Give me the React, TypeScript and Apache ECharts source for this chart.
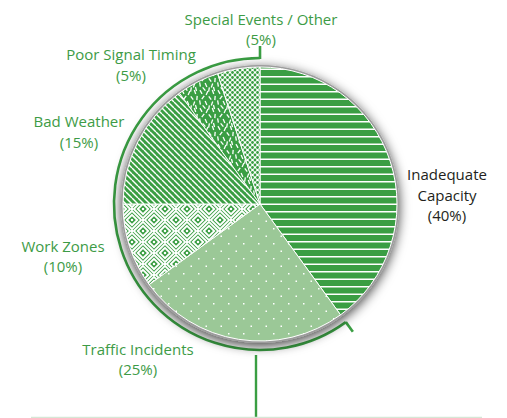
import React, { useEffect, useRef } from 'react';
import * as echarts from 'echarts';

const categories = [
  'Inadequate Capacity',
  'Traffic Incidents',
  'Work Zones',
  'Bad Weather',
  'Poor Signal Timing',
  'Special Events / Other',
];
const shares = [40, 25, 10, 15, 5, 5];

// label block centres (layout only)
const labelCenters = [
  [447, 194.5],
  [138, 359],
  [63, 256],
  [79, 131.5],
  [131, 64.5],
  [261, 29],
];

const GREEN = '#3a9e43';
const LIGHT = '#9bc897';
const TEXT_GREEN = '#3d9b46';
const CX = 260;
const CY = 204;
const R = 137;
const ARC_R = 146;

type Draw = (ctx: CanvasRenderingContext2D, w: number, h: number) => void;

function tile(w: number, h: number, draw: Draw) {
  const c = document.createElement('canvas');
  c.width = w;
  c.height = h;
  const ctx = c.getContext('2d') as CanvasRenderingContext2D;
  draw(ctx, w, h);
  return { image: c.toDataURL(), repeat: 'repeat', imageWidth: w, imageHeight: h };
}

function makePatterns() {
  const stripes = tile(4, 15, (ctx, w, h) => {
    ctx.fillStyle = GREEN;
    ctx.fillRect(0, 0, w, h);
    ctx.fillStyle = '#ffffff';
    ctx.fillRect(0, 1, w, 1.5);
    ctx.fillRect(0, 8.5, w, 1.5);
  });
  const dots = tile(15, 15, (ctx, w, h) => {
    ctx.fillStyle = LIGHT;
    ctx.fillRect(0, 0, w, h);
    ctx.fillStyle = '#ffffff';
    ctx.fillRect(3, 3, 1.5, 1.5);
    ctx.fillRect(10.5, 10.5, 1.5, 1.5);
  });
  const maze = tile(22, 22, (ctx, w, h) => {
    ctx.fillStyle = GREEN;
    ctx.fillRect(0, 0, w, h);
    ctx.strokeStyle = '#ffffff';
    ctx.fillStyle = '#ffffff';
    ctx.lineWidth = 1.9;
    const diamond = (cx: number, cy: number, r: number) => {
      ctx.beginPath();
      ctx.moveTo(cx, cy - r);
      ctx.lineTo(cx + r, cy);
      ctx.lineTo(cx, cy + r);
      ctx.lineTo(cx - r, cy);
      ctx.closePath();
      ctx.stroke();
    };
    const centres = [
      [11, 11],
      [0, 0],
      [22, 0],
      [0, 22],
      [22, 22],
    ];
    centres.forEach(([x, y]) => {
      diamond(x, y, 9.2);
      diamond(x, y, 5.2);
      ctx.fillRect(x - 1.1, y - 1.1, 2.2, 2.2);
    });
    [
      [11, 0],
      [0, 11],
      [22, 11],
      [11, 22],
    ].forEach(([x, y]) => ctx.fillRect(x - 1, y - 1, 2, 2));
  });
  const diag = tile(6, 6, (ctx, w, h) => {
    ctx.fillStyle = GREEN;
    ctx.fillRect(0, 0, w, h);
    ctx.strokeStyle = '#ffffff';
    ctx.lineWidth = 1.4;
    [-6, 0, 6].forEach((o) => {
      ctx.beginPath();
      ctx.moveTo(o, 0);
      ctx.lineTo(o + 6, 6);
      ctx.stroke();
    });
  });
  const sticks = tile(18, 18, (ctx, w, h) => {
    ctx.fillStyle = GREEN;
    ctx.fillRect(0, 0, w, h);
    ctx.strokeStyle = '#ffffff';
    ctx.lineWidth = 1.3;
    const list = [
      [3, 2, 60], [9, 3, 115], [15, 2, 70], [5, 7.5, 125], [12, 8, 55],
      [2, 12.5, 80], [8, 13, 65], [14, 13.5, 110], [17, 8, 95], [6, 17, 50],
      [11, 17.5, 100], [16, 17, 75],
    ];
    list.forEach(([x, y, a]) => {
      const rad = (a * Math.PI) / 180;
      const dx = Math.cos(rad) * 2.1;
      const dy = Math.sin(rad) * 2.1;
      for (const ox of [-18, 0, 18]) {
        for (const oy of [-18, 0, 18]) {
          ctx.beginPath();
          ctx.moveTo(x + ox - dx, y + oy - dy);
          ctx.lineTo(x + ox + dx, y + oy + dy);
          ctx.stroke();
        }
      }
    });
  });
  const cross = tile(5, 5, (ctx, w, h) => {
    ctx.fillStyle = '#ffffff';
    ctx.fillRect(0, 0, w, h);
    ctx.fillStyle = GREEN;
    [
      [0, 0], [5, 0], [0, 5], [5, 5], [2.5, 2.5],
    ].forEach(([x, y]) => {
      ctx.beginPath();
      ctx.arc(x, y, 1.4, 0, Math.PI * 2);
      ctx.fill();
    });
  });
  return [stripes, dots, maze, diag, sticks, cross];
}

export default function App() {
  const ref = useRef<HTMLDivElement>(null);
  useEffect(() => {
    document.body.style.margin = '0';
    if (!ref.current) return;
    const chart = echarts.init(ref.current, null, { renderer: 'svg' });
    const patterns = makePatterns();
    const total = shares.reduce((a, b) => a + b, 0);
    const a0 = -Math.PI / 2 + (2 * Math.PI * shares[0]) / total;
    const a1 = (3 * Math.PI) / 2;
    const fontFamily = '"Open Sans", sans-serif';

    const option: any = {
      animation: false,
      graphic: [
        {
          type: 'arc',
          shape: { cx: CX, cy: CY, r: ARC_R, startAngle: a0, endAngle: a1, clockwise: true },
          style: { stroke: GREEN, lineWidth: 2.6, fill: 'none' },
          silent: true,
        },
        {
          type: 'line',
          shape: {
            x1: CX + ARC_R * Math.cos(a0),
            y1: CY + ARC_R * Math.sin(a0),
            x2: CX + (ARC_R + 12) * Math.cos(a0),
            y2: CY + (ARC_R + 12) * Math.sin(a0),
          },
          style: { stroke: GREEN, lineWidth: 2.6 },
          silent: true,
        },
        {
          type: 'line',
          shape: {
            x1: CX + ARC_R * Math.cos(a1),
            y1: CY + ARC_R * Math.sin(a1) + 1,
            x2: CX + (ARC_R + 12) * Math.cos(a1),
            y2: CY + (ARC_R + 12) * Math.sin(a1),
          },
          style: { stroke: GREEN, lineWidth: 2.6 },
          silent: true,
        },
        {
          type: 'line',
          shape: { x1: 256, y1: CY + ARC_R + 5, x2: 256, y2: 418 },
          style: { stroke: GREEN, lineWidth: 2.4 },
          silent: true,
        },
        {
          type: 'line',
          shape: { x1: 31, y1: 417.5, x2: 482, y2: 417.5 },
          style: { stroke: '#d6e7d6', lineWidth: 1.5 },
          silent: true,
        },
      ],
      series: [
        {
          type: 'pie',
          silent: true,
          center: [CX, CY],
          radius: R + 2,
          z: 1,
          label: { show: false },
          labelLine: { show: false },
          emphasis: { disabled: true },
          data: [
            {
              value: 1,
              itemStyle: {
                color: '#9c9c9c',
                shadowBlur: 12,
                shadowColor: 'rgba(0,0,0,0.75)',
                shadowOffsetY: 3,
              },
            },
          ],
        },
        {
          type: 'pie',
          center: [CX, CY],
          radius: R,
          startAngle: 90,
          clockwise: true,
          avoidLabelOverlap: false,
          z: 2,
          emphasis: { disabled: true },
          itemStyle: { borderColor: '#ffffff', borderWidth: 1 },
          label: {
            show: true,
            position: 'outside',
            color: TEXT_GREEN,
            fontFamily,
            fontSize: 15,
            lineHeight: 20.5,
            formatter: (p: any) => {
              const name = p.dataIndex === 0 ? p.name.replace(' ', '\n') : p.name;
              return `${name}\n(${p.value}%)`;
            },
          },
          labelLine: { show: false },
          labelLayout: (p: any) => ({
            x: labelCenters[p.dataIndex][0],
            y: labelCenters[p.dataIndex][1],
            align: 'center',
            verticalAlign: 'middle',
          }),
          data: categories.map((name, i) => ({
            name,
            value: shares[i],
            itemStyle: { color: patterns[i] },
            label: i === 0 ? { color: '#231f20' } : undefined,
          })),
        },
      ],
    };
    chart.setOption(option);
    return () => chart.dispose();
  }, []);
  return <div ref={ref} style={{ width: 507, height: 418 }} />;
}
